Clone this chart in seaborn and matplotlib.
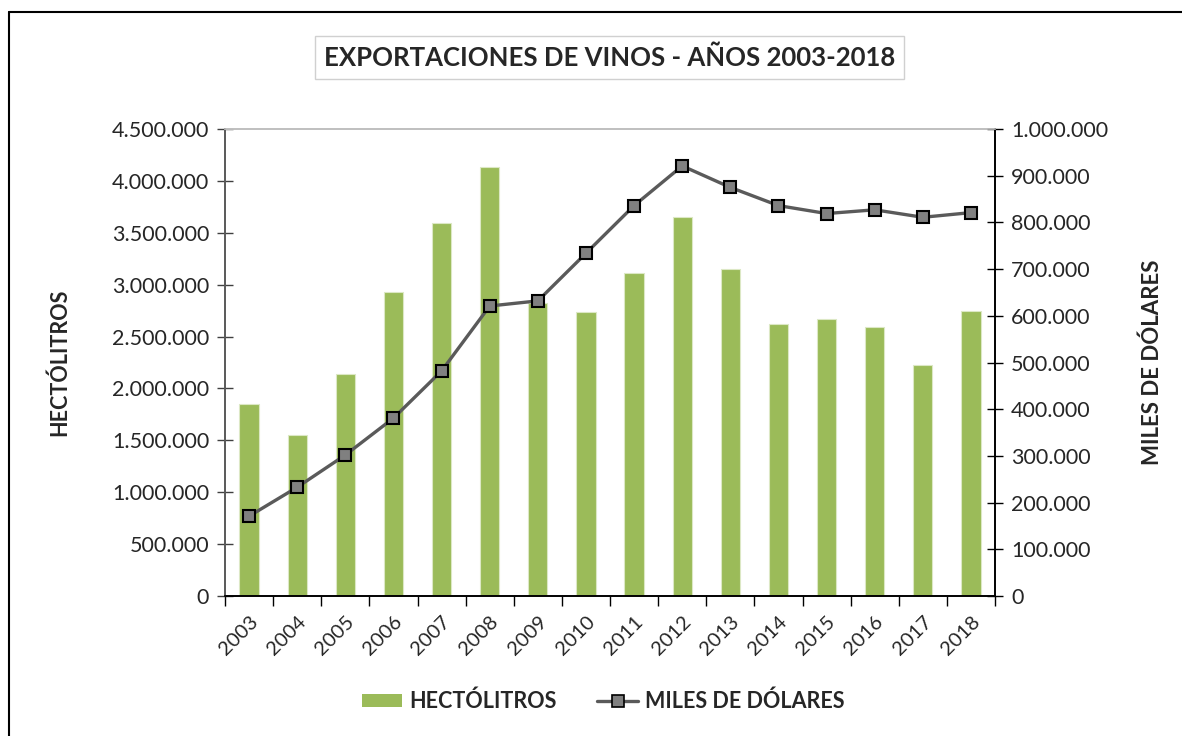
import matplotlib
matplotlib.use('Agg')

import matplotlib.pyplot as plt
import seaborn as sns
import pandas as pd
from matplotlib.ticker import FuncFormatter, FixedLocator
from matplotlib.patches import Patch
from matplotlib.lines import Line2D

# datos
years = [str(y) for y in range(2003, 2019)]
hectolitros = [1850000, 1551000, 2139000, 2929000, 3594000, 4134000, 2825000, 2737000,
               3108000, 3655000, 3148000, 2621000, 2669000, 2589000, 2226000, 2746000]
miles_dolares = [171000, 233000, 302000, 381000, 482000, 621000, 632000, 734000,
                 836000, 921000, 875000, 836000, 819000, 827000, 811000, 821000]

bar_color = '#9BBB59'
line_color = '#5A5A5A'
font = ['Lato', 'DejaVu Sans']

sns.set_style('white')
plt.rcParams['font.family'] = font

df = pd.DataFrame({'Año': years, 'Hectolitros': hectolitros, 'Miles': miles_dolares})


def miles_fmt(v, pos):
    return f'{int(round(v)):,}'.replace(',', '.')


fig = plt.figure(figsize=(11.82, 7.36), dpi=100)
ax = fig.add_axes([0.1904, 0.1902, 0.6514, 0.6345])

sns.barplot(data=df, x='Año', y='Hectolitros', color=bar_color, width=0.4,
            edgecolor='#DCE8C5', linewidth=0.8, saturation=1, ax=ax)
ax.set_xlim(-0.5, len(years) - 0.5)
ax.set_ylim(0, 4500000)
ax.yaxis.set_major_locator(FixedLocator(range(0, 4500001, 500000)))
ax.yaxis.set_major_formatter(FuncFormatter(miles_fmt))

ax2 = ax.twinx()
ax2.plot(df['Año'], df['Miles'], color=line_color, lw=2.4, marker='s', markersize=9,
         markerfacecolor='#808080', markeredgecolor='black', markeredgewidth=1.5)
ax2.set_ylim(0, 1000000)
ax2.yaxis.set_major_locator(FixedLocator(range(0, 1000001, 100000)))
ax2.yaxis.set_major_formatter(FuncFormatter(miles_fmt))
ax.set_xlim(-0.5, len(years) - 0.5)

# ticks del eje x en los limites entre categorias
ax.set_xticks([i - 0.5 for i in range(len(years) + 1)], minor=True)
ax.tick_params(axis='x', which='major', length=0, pad=12, labelsize=14.5, labelrotation=45)
ax.tick_params(axis='x', which='minor', length=7, width=1, color='black', direction='out', bottom=True)
for lbl in ax.get_xticklabels():
    lbl.set_ha('right')
    lbl.set_rotation_mode('anchor')
ax.tick_params(axis='y', length=11, width=1, direction='inout', labelsize=15.5,
               color='#404040', left=True, pad=6)
ax2.tick_params(axis='y', length=11, width=1, direction='inout', labelsize=15.5,
                color='black', right=True, pad=6)

ax.set_xlabel('')
ax.set_ylabel('HECTÓLITROS', fontsize=15.5, fontweight='bold', labelpad=30)
ax2.set_ylabel('MILES DE DÓLARES', fontsize=16, fontweight='bold', labelpad=24)

for a in (ax, ax2):
    a.spines['top'].set_color('#BFBFBF')
    a.spines['left'].set_color('#595959')
    a.spines['right'].set_color('black')
    a.spines['bottom'].set_color('black')
    for s in a.spines.values():
        s.set_linewidth(1.2)

fig.text(0.5157, 0.922, 'EXPORTACIONES DE VINOS - AÑOS 2003-2018', ha='center', va='center',
         fontsize=18.5, fontweight='bold',
         bbox=dict(boxstyle='square,pad=0.35', facecolor='white', edgecolor='#D0D0D0', lw=1))

handles = [Patch(facecolor=bar_color, edgecolor='none'),
           Line2D([], [], color=line_color, lw=2.4, marker='s', markersize=8,
                  markerfacecolor='#808080', markeredgecolor='black', markeredgewidth=1.2)]
leg = fig.legend(handles, ['HECTÓLITROS', 'MILES DE DÓLARES'], loc='center',
                 bbox_to_anchor=(0.51, 0.047), ncol=2, frameon=False,
                 prop={'family': font, 'weight': 'bold', 'size': 15.5},
                 handlelength=1.9, handleheight=0.6, columnspacing=1.9, handletextpad=0.3)

# marco exterior del grafico
fig.add_artist(Line2D([0.0076, 1.0], [1 - 12 / 736, 1 - 12 / 736], color='black', lw=1.5,
                      transform=fig.transFigure))
fig.add_artist(Line2D([0.0076, 0.0076], [0.0, 1 - 12 / 736], color='black', lw=1.5,
                      transform=fig.transFigure))

fig.savefig('out.png', dpi=100)
